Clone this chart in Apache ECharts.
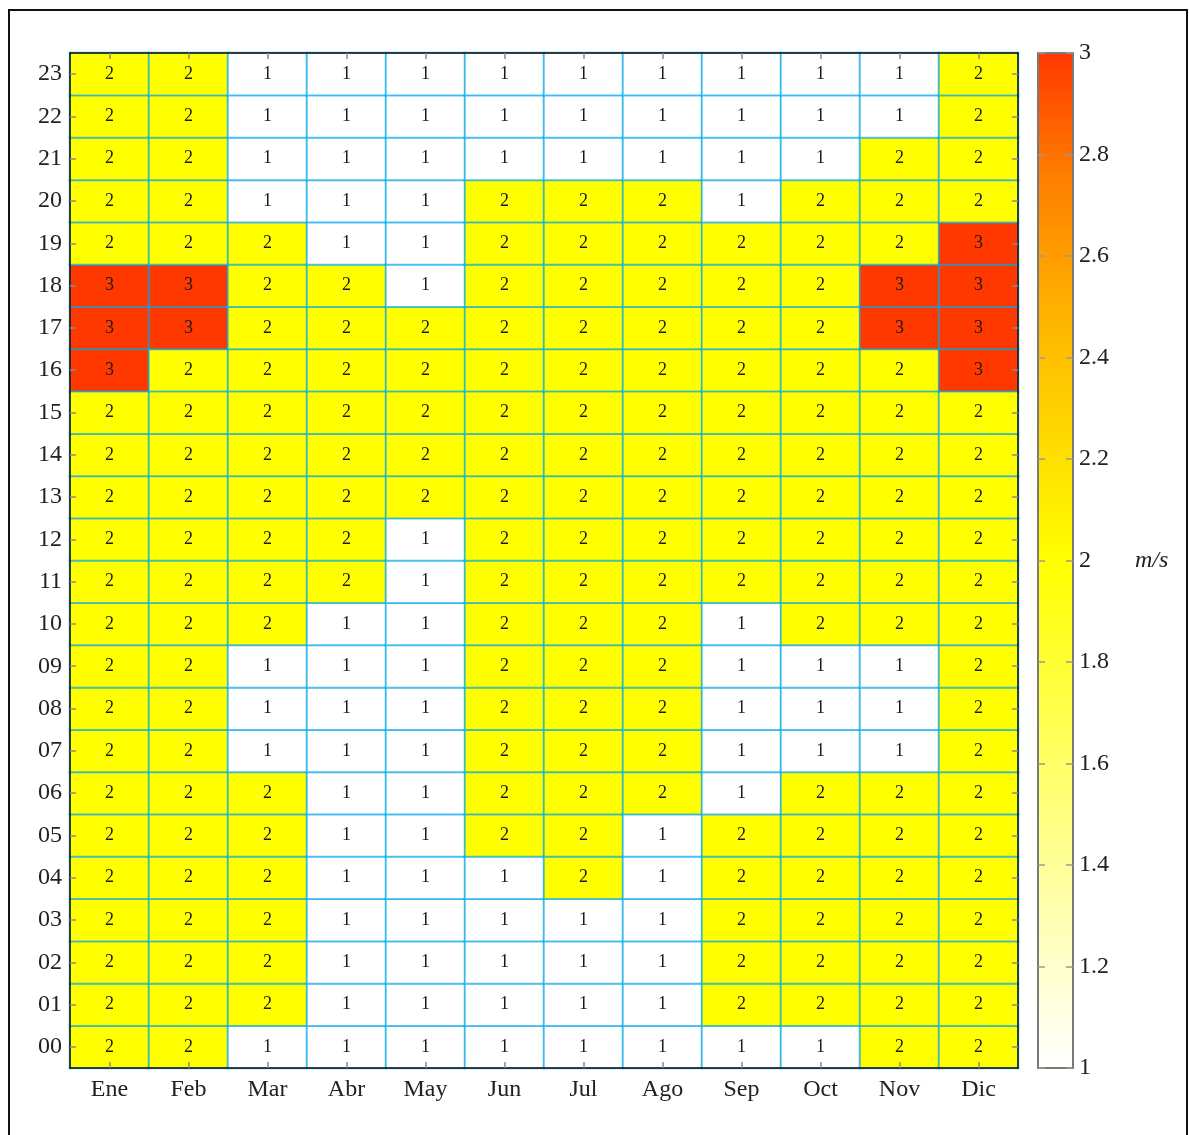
<!DOCTYPE html>
<html>
<head>
    <meta charset="utf-8" />
    <title>Viento por hora y mes</title>
    <script src="https://cdn.jsdelivr.net/npm/echarts@6/dist/echarts.min.js"></script>
    <style>
        html, body { margin: 0; padding: 0; background: #fff; }
        #frame { position: absolute; left: 8px; top: 9px; width: 1180px; height: 1140px;
                 border: 2px solid #111; box-sizing: border-box; }
        #div_echart { position: absolute; left: 0; top: 0; width: 1189px; height: 1135px; }
    </style>
</head>
<body>
<div id="frame"></div>
<div id="div_echart"></div>
<script>
    // meses y horas
    var meses = ['Ene', 'Feb', 'Mar', 'Abr', 'May', 'Jun', 'Jul', 'Ago', 'Sep', 'Oct', 'Nov', 'Dic'];
    var horas = ['00', '01', '02', '03', '04', '05', '06', '07', '08', '09', '10', '11',
                 '12', '13', '14', '15', '16', '17', '18', '19', '20', '21', '22', '23'];

    // velocidad (m/s) por mes, hora 00 -> 23
    var ene = [2, 2, 2, 2, 2, 2, 2, 2, 2, 2, 2, 2, 2, 2, 2, 2, 3, 3, 3, 2, 2, 2, 2, 2];
    var feb = [2, 2, 2, 2, 2, 2, 2, 2, 2, 2, 2, 2, 2, 2, 2, 2, 2, 3, 3, 2, 2, 2, 2, 2];
    var mar = [1, 2, 2, 2, 2, 2, 2, 1, 1, 1, 2, 2, 2, 2, 2, 2, 2, 2, 2, 2, 1, 1, 1, 1];
    var abr = [1, 1, 1, 1, 1, 1, 1, 1, 1, 1, 1, 2, 2, 2, 2, 2, 2, 2, 2, 1, 1, 1, 1, 1];
    var may = [1, 1, 1, 1, 1, 1, 1, 1, 1, 1, 1, 1, 1, 2, 2, 2, 2, 2, 1, 1, 1, 1, 1, 1];
    var jun = [1, 1, 1, 1, 1, 2, 2, 2, 2, 2, 2, 2, 2, 2, 2, 2, 2, 2, 2, 2, 2, 1, 1, 1];
    var jul = [1, 1, 1, 1, 2, 2, 2, 2, 2, 2, 2, 2, 2, 2, 2, 2, 2, 2, 2, 2, 2, 1, 1, 1];
    var ago = [1, 1, 1, 1, 1, 1, 2, 2, 2, 2, 2, 2, 2, 2, 2, 2, 2, 2, 2, 2, 2, 1, 1, 1];
    var sep = [1, 2, 2, 2, 2, 2, 1, 1, 1, 1, 1, 2, 2, 2, 2, 2, 2, 2, 2, 2, 1, 1, 1, 1];
    var oct = [1, 2, 2, 2, 2, 2, 2, 1, 1, 1, 2, 2, 2, 2, 2, 2, 2, 2, 2, 2, 2, 1, 1, 1];
    var nov = [2, 2, 2, 2, 2, 2, 2, 1, 1, 1, 2, 2, 2, 2, 2, 2, 2, 3, 3, 2, 2, 2, 1, 1];
    var dic = [2, 2, 2, 2, 2, 2, 2, 2, 2, 2, 2, 2, 2, 2, 2, 2, 3, 3, 3, 3, 2, 2, 2, 2];

    var columnas = [ene, feb, mar, abr, may, jun, jul, ago, sep, oct, nov, dic];

    // escala de color 1 -> 3 (blanco, amarillo, naranja, rojo)
    var escalaMin = 1;
    var escalaMax = 3;
    var colores = ['#ffffff', '#ffffc0', '#ffff80', '#ffff40', '#ffff00',
                   '#ffd800', '#ffb000', '#ff8000', '#ff3800'];

    var fuente = "'Liberation Serif', 'DejaVu Serif', serif";

    var datos = [];
    for (var m = 0; m < columnas.length; m++) {
        for (var h = 0; h < horas.length; h++) {
            datos.push([m, h, columnas[m][h]]);
        }
    }

    // degradado de la barra de color (arriba = max)
    var paradas = [];
    for (var i = 0; i < colores.length; i++) {
        paradas.push({ offset: 1 - i / (colores.length - 1), color: colores[i] });
    }
    paradas.reverse();

    var tickGris = { show: true, inside: true, length: 6, alignWithLabel: true,
                     lineStyle: { color: '#8a8a8a', width: 1.5 } };
    var lineaNegra = { show: true, lineStyle: { color: '#111', width: 1.5 } };
    var lineaGris = { show: true, lineStyle: { color: '#7a7a7a', width: 2 } };
    var tickBarra = { show: true, inside: true, length: 7,
                      lineStyle: { color: '#999', width: 1.5 } };

    var mychart = echarts.init(document.getElementById('div_echart'));
    var option = {
        backgroundColor: 'transparent',
        animation: false,
        grid: [
            { left: 70, top: 53, width: 948, height: 1015 },
            { left: 1038, top: 53, width: 35, height: 1015 }
        ],
        xAxis: [
            { type: 'category', gridIndex: 0, data: meses, position: 'bottom', z: 10,
              axisLine: lineaNegra, axisTick: tickGris, splitLine: { show: false },
              axisLabel: { fontFamily: fuente, fontSize: 24, color: '#222', margin: 10 } },
            { type: 'category', gridIndex: 0, data: meses, position: 'top', z: 10,
              axisLine: lineaNegra, axisTick: tickGris, axisLabel: { show: false } },
            { type: 'category', gridIndex: 1, data: [''], position: 'bottom', z: 10,
              axisLine: lineaGris, axisTick: { show: false }, axisLabel: { show: false },
              splitLine: { show: false } },
            { type: 'category', gridIndex: 1, data: [''], position: 'top', z: 10,
              axisLine: lineaGris, axisTick: { show: false }, axisLabel: { show: false },
              splitLine: { show: false } }
        ],
        yAxis: [
            { type: 'category', gridIndex: 0, data: horas, position: 'left', z: 10,
              axisLine: lineaNegra, axisTick: tickGris, splitLine: { show: false },
              axisLabel: { fontFamily: fuente, fontSize: 24, color: '#222', margin: 8 } },
            { type: 'category', gridIndex: 0, data: horas, position: 'right', z: 10,
              axisLine: lineaNegra, axisTick: tickGris, axisLabel: { show: false } },
            { type: 'value', gridIndex: 1, min: escalaMin, max: escalaMax, interval: 0.2,
              position: 'left', z: 10,
              axisLine: lineaGris, axisTick: tickBarra, axisLabel: { show: false },
              splitLine: { show: false } },
            { type: 'value', gridIndex: 1, min: escalaMin, max: escalaMax, interval: 0.2,
              position: 'right', z: 10,
              axisLine: lineaGris, axisTick: tickBarra, splitLine: { show: false },
              axisLabel: { fontFamily: fuente, fontSize: 24, color: '#222', margin: 6,
                           formatter: function (v) { return String(Math.round(v * 10) / 10); } },
              name: 'm/s', nameLocation: 'middle', nameRotate: 0, nameGap: 62,
              nameTextStyle: { fontFamily: fuente, fontSize: 24, fontStyle: 'italic', color: '#222' } }
        ],
        visualMap: {
            type: 'continuous',
            show: false,
            min: escalaMin,
            max: escalaMax,
            seriesIndex: 0,
            inRange: { color: colores }
        },
        series: [
            {
                type: 'heatmap',
                xAxisIndex: 0,
                yAxisIndex: 0,
                data: datos,
                itemStyle: { borderColor: 'rgba(0, 168, 235, 0.65)', borderWidth: 2 },
                label: {
                    show: true,
                    fontFamily: fuente,
                    fontSize: 18,
                    color: '#1a1a1a',
                    formatter: function (p) { return p.value[2]; }
                },
                emphasis: { disabled: true }
            },
            {
                // barra de color
                type: 'bar',
                xAxisIndex: 2,
                yAxisIndex: 2,
                data: [escalaMax],
                barWidth: '100%',
                silent: true,
                itemStyle: {
                    color: new echarts.graphic.LinearGradient(0, 0, 0, 1, paradas)
                }
            }
        ]
    };

    if (option && typeof option === 'object') {
        mychart.setOption(option, true);
    }
</script>
</body>
</html>
